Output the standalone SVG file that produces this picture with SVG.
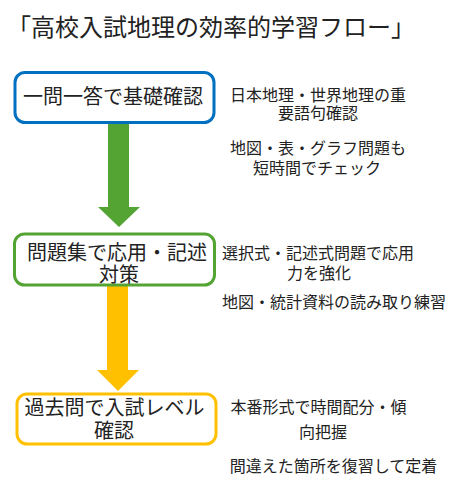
<svg xmlns="http://www.w3.org/2000/svg" width="457" height="496" viewBox="0 0 457 496">
<style>
text{font-family:"Noto Sans CJK JP","Noto Sans CJK SC",sans-serif;fill:#222;text-anchor:middle;dominant-baseline:central}
.t{font-size:24px}
.n{font-size:20px}
.s{font-size:16px}
.box{fill:#fff;stroke-width:3}
</style>
<rect width="457" height="496" fill="#fff"/>
<text class="t" x="211" y="25.5">「高校入試地理の効率的学習フロー」</text>
<g id="connectors">
<path d="M108 124H129V207H140L119 227L98 207H108Z" fill="#54A434"/>
<path d="M107 286H128V370H139L118 391L97 370H107Z" fill="#FFC000"/>
</g>
<g id="node1">
<rect class="box" x="15" y="72.5" width="199" height="50" rx="10" stroke="#0070C0"/>
<text class="n" x="113" y="95.5">一問一答で基礎確認</text>
</g>
<g id="note1">
<text class="s" x="318" y="93.5">日本地理・世界地理の重</text>
<text class="s" x="318" y="111.5">要語句確認</text>
<text class="s" x="318" y="147">地図・表・グラフ問題も</text>
<text class="s" x="317" y="166.5">短時間でチェック</text>
</g>
<g id="node2">
<rect class="box" x="14.5" y="234" width="200" height="51" rx="10" stroke="#54A434"/>
<text class="n" x="117" y="251">問題集で応用・記述</text>
<text class="n" x="119" y="273.5">対策</text>
</g>
<g id="note2">
<text class="s" x="318" y="251.5">選択式・記述式問題で応用</text>
<text class="s" x="319" y="271.5">力を強化</text>
<text class="s" x="334" y="300.5">地図・統計資料の読み取り練習</text>
</g>
<g id="node3">
<rect class="box" x="17" y="394" width="199" height="50" rx="10" stroke="#FFC000"/>
<text class="n" x="114.5" y="406.5">過去問で入試レベル</text>
<text class="n" x="114" y="429">確認</text>
</g>
<g id="note3">
<text class="s" x="318.5" y="405.5">本番形式で時間配分・傾</text>
<text class="s" x="323" y="430.5">向把握</text>
<text class="s" x="333.5" y="465">間違えた箇所を復習して定着</text>
</g>
</svg>
